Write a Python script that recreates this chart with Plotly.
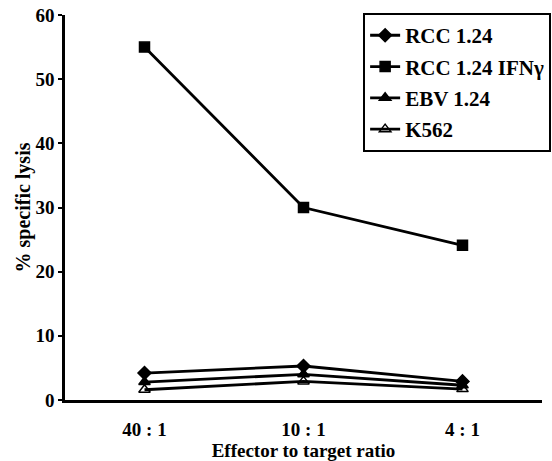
import plotly.graph_objects as go

categories = ["40 : 1", "10 : 1", "4 : 1"]
rcc = [4.2, 5.3, 2.9]
rcc_ifn = [55.0, 30.0, 24.1]
ebv = [2.8, 4.0, 2.3]
k562 = [1.6, 2.9, 1.7]

series = [
    ("RCC 1.24", rcc, "diamond"),
    ("RCC 1.24 IFNγ", rcc_ifn, "square"),
    ("EBV 1.24", ebv, "triangle-up"),
    ("K562", k562, "triangle-up-open"),
]

font_family = "Liberation Serif, Times New Roman, serif"

fig = go.Figure()
for i, (name, vals, sym) in enumerate(series):
    fig.add_trace(go.Scatter(
        x=categories, y=vals, name=name, mode="lines+markers",
        legendgroup=f"g{i}",
        line=dict(color="black", width=2.8),
        marker=dict(symbol=sym, size=10, color="black",
                    line=dict(color="black", width=1.5)),
    ))

fig.update_layout(
    width=552, height=461,
    margin=dict(l=65, r=1, t=15, b=61),
    paper_bgcolor="white", plot_bgcolor="white",
    font=dict(family=font_family, color="black", size=18),
    showlegend=True,
    legend=dict(
        x=0.625, y=1.005, xanchor="left", yanchor="top",
        bordercolor="black", borderwidth=2, bgcolor="white",
        font=dict(family=font_family, size=21, color="black", weight="bold"),
        tracegroupgap=1, itemwidth=30,
    ),
    xaxis=dict(
        type="category", range=[-0.5, 2.5], automargin=False,
        showline=True, linecolor="black", linewidth=2.5,
        showgrid=False, zeroline=False, ticks="",
        ticklabelstandoff=10,
        tickfont=dict(family=font_family, size=19, color="black", weight="bold"),
        title=dict(text="<b>Effector to target ratio</b>", standoff=12,
                   font=dict(family=font_family, size=19, color="black")),
    ),
    yaxis=dict(
        range=[0, 60], dtick=10, automargin=False,
        showline=True, linecolor="black", linewidth=2.5,
        showgrid=False, zeroline=False, ticks="outside", ticklen=4,
        tickwidth=1.5, tickcolor="black",
        tickfont=dict(family=font_family, size=19, color="black", weight="bold"),
        title=dict(text="<b>% specific lysis</b>", standoff=0,
                   font=dict(family=font_family, size=20, color="black")),
    ),
)

fig.write_html("out.html")
